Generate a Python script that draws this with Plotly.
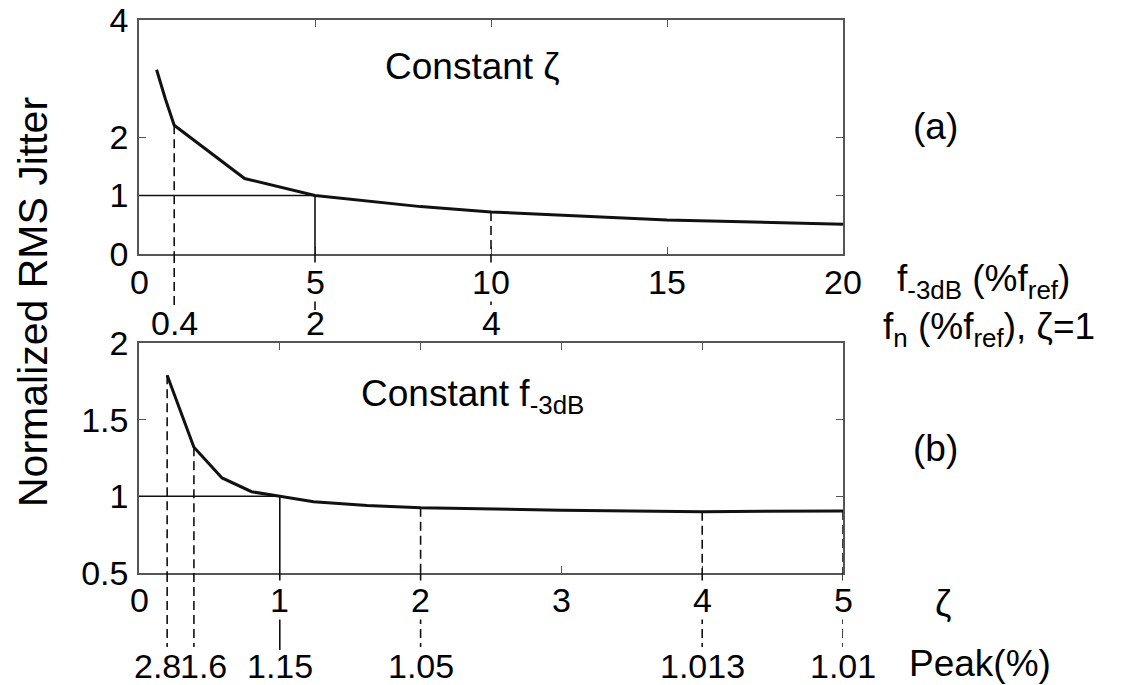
import plotly.graph_objects as go

# ---------------- data ----------------
# panel (a): constant zeta, x = f-3dB (% fref)
a_x = [0.5, 0.75, 1, 2, 3, 5, 8, 10, 12, 15, 20]
a_y = [3.15, 2.65, 2.2, 1.75, 1.29, 1.0, 0.81, 0.72, 0.66, 0.58, 0.51]
a_ticks = [0, 5, 10, 15, 20]
a_yticks = [0, 1, 2, 4]
a_ytext = ["0", "1", "2", "4"]
a_marks_dashed = [1, 10]
a_marks_solid = [5]
a_fn_labels = {1: "0.4", 5: "2", 10: "4"}

# panel (b): constant f-3dB, x = zeta
b_x = [0.2, 0.39, 0.59, 0.8, 1.0, 1.24, 1.62, 2, 3, 4, 5]
b_y = [1.79, 1.32, 1.12, 1.03, 1.0, 0.965, 0.94, 0.925, 0.91, 0.9, 0.905]
b_ticks = [0, 1, 2, 3, 4, 5]
b_yticks = [0.5, 1, 1.5, 2]
b_ytext = ["0.5", "1", "1.5", "2"]
b_marks_dashed = [0.2, 0.39, 2, 4, 5]
b_marks_solid = [1]
b_peak_labels = {0.2: "2.8", 0.39: "1.6", 1: "1.15", 2: "1.05", 4: "1.013", 5: "1.01"}

# ---------------- layout geometry ----------------
W, H = 1135, 685
FONT = "Liberation Sans, Arial, Helvetica, sans-serif"
TICK = 34
TXT = 37
AX = "#555555"
LC = "#111111"


def py(p):  # pixel row -> paper y
    return 1 - p / H


def px(p):
    return p / W


xdom = [px(139), px(843)]
ydom_a = [py(254), py(20)]
ydom_b = [py(573), py(343)]

fig = go.Figure()
fig.add_trace(go.Scatter(x=a_x, y=a_y, mode="lines", line=dict(color=LC, width=3),
                         xaxis="x", yaxis="y", showlegend=False, hoverinfo="skip"))
fig.add_trace(go.Scatter(x=b_x, y=b_y, mode="lines", line=dict(color=LC, width=3),
                         xaxis="x2", yaxis="y2", showlegend=False, hoverinfo="skip"))

axcommon = dict(showline=True, linecolor=AX, linewidth=1.5, mirror="ticks", ticks="inside",
                ticklen=7, tickwidth=1.2, tickcolor=AX, showgrid=False, zeroline=False,
                automargin=False,
                tickfont=dict(family=FONT, size=TICK, color="black"))

fig.update_layout(
    width=W, height=H, margin=dict(l=0, r=0, t=0, b=0, autoexpand=False),
    paper_bgcolor="white", plot_bgcolor="white",
    xaxis=dict(domain=xdom, range=[0, 20], tickvals=a_ticks, showticklabels=False,
               anchor="y", **axcommon),
    yaxis=dict(domain=ydom_a, range=[0, 4], tickvals=a_yticks, ticktext=a_ytext, anchor="x",
               ticklabelstandoff=2, **axcommon),
    xaxis2=dict(domain=xdom, range=[0, 5], tickvals=b_ticks, showticklabels=False,
                anchor="y2", **axcommon),
    yaxis2=dict(domain=ydom_b, range=[0.5, 2], tickvals=b_yticks, ticktext=b_ytext,
                anchor="x2", ticklabelstandoff=2, **axcommon),
)

shapes = []
ann = []


def vline(xv, yv, xref, yref, ymin, dom_bottom, end_px, dashed):
    dash = "9px,5px" if dashed else "solid"
    shapes.append(dict(type="line", xref=xref, yref=yref, x0=xv, x1=xv, y0=yv, y1=ymin,
                       line=dict(color=LC, width=1.6, dash=dash), layer="above"))
    shapes.append(dict(type="line", xref=xref, yref="paper", x0=xv, x1=xv, y0=dom_bottom,
                       y1=py(end_px), line=dict(color=LC, width=1.6, dash=dash), layer="above"))


# panel (a) reference lines
shapes.append(dict(type="line", xref="x", yref="y", x0=0, x1=a_marks_solid[0], y0=1, y1=1,
                   line=dict(color=LC, width=1.5)))
for xv in a_marks_dashed:
    vline(xv, a_y[a_x.index(xv)], "x", "y", 0, ydom_a[0], 310, True)
for xv in a_marks_solid:
    vline(xv, a_y[a_x.index(xv)], "x", "y", 0, ydom_a[0], 310, False)

# panel (b) reference lines
shapes.append(dict(type="line", xref="x2", yref="y2", x0=0, x1=b_marks_solid[0], y0=1, y1=1,
                   line=dict(color=LC, width=1.5)))
for xv in b_marks_dashed:
    vline(xv, b_y[b_x.index(xv)], "x2", "y2", 0.5, ydom_b[0], 647, True)
for xv in b_marks_solid:
    vline(xv, b_y[b_x.index(xv)], "x2", "y2", 0.5, ydom_b[0], 650, False)


def label(text, x, y, xref="paper", yref="paper", size=TICK, xanchor="center", bg="white",
          xshift=0, angle=0):
    ann.append(dict(text=text, x=x, y=y, xref=xref, yref=yref, showarrow=False,
                    xanchor=xanchor, yanchor="middle", bgcolor=bg, borderpad=0,
                    xshift=xshift, textangle=angle,
                    font=dict(family=FONT, size=size, color="black")))


# x tick labels (as masking annotations)
for t in a_ticks:
    label(str(t), t, py(282), xref="x")
for k, v in a_fn_labels.items():
    label(v, k, py(323), xref="x", bg=None)
for t in b_ticks:
    label(str(t), t, py(600), xref="x2")
for k, v in b_peak_labels.items():
    shift = -10 if v == "2.8" else (10 if v == "1.6" else 0)
    label(v, k, py(666), xref="x2", xshift=shift, bg=None)

# texts
label("Constant ζ", px(472), py(66), size=TXT, bg=None)
label("(a)", px(936), py(127), size=TXT, bg=None)
label("f<sub>-3dB</sub> (%f<sub>ref</sub>)", px(896), py(281), size=37, xanchor="left", bg=None)
label("f<sub>n</sub> (%f<sub>ref</sub>), ζ=1", px(882), py(329), size=37, xanchor="left", bg=None)
label("Constant f<sub>-3dB</sub>", px(472), py(396), size=TXT, bg=None)
label("(b)", px(936), py(448), size=TXT, bg=None)
label("ζ", px(943), py(603), size=TXT, bg=None)
label("Peak(%)", px(908), py(663), size=TXT, xanchor="left", bg=None)
label("Normalized RMS Jitter", px(33), py(302), size=41, bg=None, angle=-90)

fig.update_layout(shapes=shapes, annotations=ann)
fig.write_html("out.html", config={"displayModeBar": False},
               post_script="document.body.style.margin='0';document.body.style.padding='0';")
